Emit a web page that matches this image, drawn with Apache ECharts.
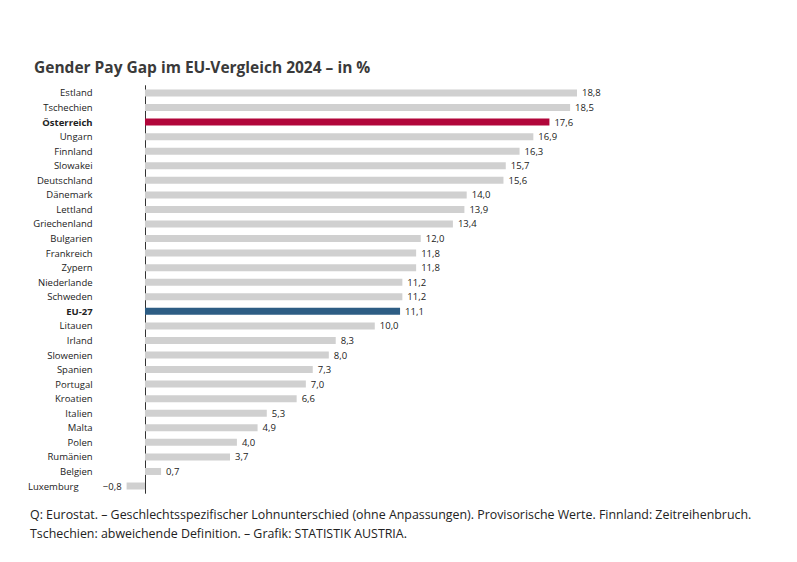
<!DOCTYPE html>
<html><head><meta charset="utf-8">
<script src="https://cdn.jsdelivr.net/npm/echarts@6/dist/echarts.min.js"></script>
<style>html,body{margin:0;background:#fff}#c{width:797px;height:562px}</style>
</head><body><div id="c"></div>
<script>
var countries = ['Estland','Tschechien','Österreich','Ungarn','Finnland','Slowakei','Deutschland','Dänemark','Lettland','Griechenland','Bulgarien','Frankreich','Zypern','Niederlande','Schweden','EU-27','Litauen','Irland','Slowenien','Spanien','Portugal','Kroatien','Italien','Malta','Polen','Rumänien','Belgien','Luxemburg'];
var gaps = [18.8,18.5,17.6,16.9,16.3,15.7,15.6,14.0,13.9,13.4,12.0,11.8,11.8,11.2,11.2,11.1,10.0,8.3,8.0,7.3,7.0,6.6,5.3,4.9,4.0,3.7,0.7,-0.8];
var highlight = { 'Österreich': '#b1063a', 'EU-27': '#2d5d84' };

var chart = echarts.init(document.getElementById('c'), null, { renderer: 'svg' });
var font = '"Open Sans", "Noto Sans", sans-serif';

// negative values: move the category label left so it clears the value label
var cats = countries.map(function (c, i) {
  return gaps[i] < 0 ? { value: c, textStyle: { padding: [0, 14, 0, 0] } } : c;
});

chart.setOption({
  animation: false,
  textStyle: { fontFamily: font },
  title: {
    text: 'Gender Pay Gap im EU-Vergleich 2024 – in %',
    left: 29, top: 54,
    textStyle: { fontSize: 15.5, fontWeight: 'bold', color: '#3a3a3a', fontFamily: font }
  },
  graphic: [{
    type: 'text', left: 30, top: 505,
    style: {
      text: 'Q: Eurostat. – Geschlechtsspezifischer Lohnunterschied (ohne Anpassungen). Provisorische Werte. Finnland: Zeitreihenbruch.\nTschechien: abweichende Definition. – Grafik: STATISTIK AUSTRIA.',
      font: '12.4px ' + font, fill: '#222', lineHeight: 19
    }
  }],
  grid: { left: 126.6, right: 220, top: 85.7, height: 407.6 },
  xAxis: { type: 'value', min: -0.8, max: 18.8, show: false },
  yAxis: {
    type: 'category', data: cats, inverse: true,
    axisLine: { onZero: true, lineStyle: { color: '#333', width: 1 } },
    axisTick: { show: false },
    axisLabel: {
      margin: 34, fontSize: 9.5, color: '#222',
      formatter: function (v) { return highlight[v] ? '{b|' + v + '}' : v; },
      rich: { b: { fontWeight: 'bold', fontSize: 9.5, color: '#222' } }
    }
  },
  series: [{
    type: 'bar', barWidth: 7,
    data: gaps.map(function (v, i) {
      var d = { value: v, itemStyle: { color: highlight[countries[i]] || '#d0d0d0' } };
      if (v < 0) d.label = { position: 'left' };
      return d;
    }),
    label: {
      show: true, position: 'right', distance: 5, fontSize: 9.5, color: '#222',
      formatter: function (p) { return (p.value < 0 ? '\u2212' + (-p.value).toFixed(1) : p.value.toFixed(1)).replace('.', ','); }
    }
  }]
});
</script></body></html>
